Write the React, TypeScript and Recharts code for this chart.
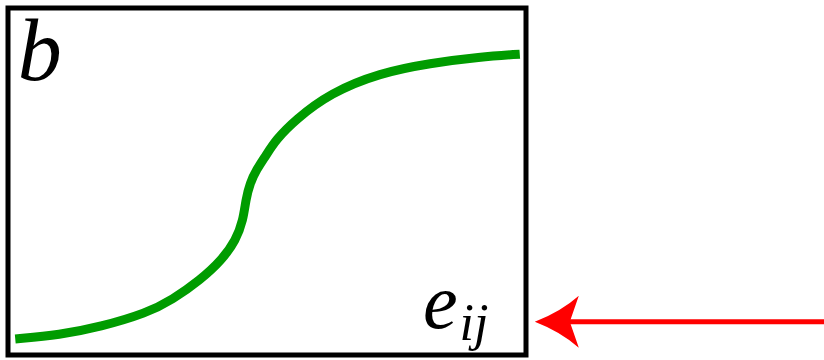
import { LineChart, Line, XAxis, YAxis, ReferenceArea, ReferenceLine, ReferenceDot } from 'recharts';

// S-shaped response curve b(e_ij), both axes normalised to 0..100
const curveX = [1.4, 10.0, 17.8, 26.8, 31.7, 37.1, 41.3, 44.0, 45.4, 45.9, 46.7, 48.0, 49.8, 51.7, 55.4, 62.2, 71.8, 81.5, 91.1, 98.8];
const curveY = [4.6, 5.8, 8.1, 12.1, 15.9, 21.6, 27.4, 33.1, 38.9, 44.7, 49.5, 53.5, 57.5, 62.0, 67.7, 75.5, 81.3, 84.1, 85.9, 86.7];

// arrow pointing at the e_ij axis, drawn outside the box
const arrowFrom = { x: 160, y: 9.6 };
const arrowTo = { x: 101.7, y: 9.6 };

const data = curveX.map((x, i) => ({ x, b: curveY[i] }));

const serif = '"Liberation Serif", "DejaVu Serif", serif';

function Arrow(props: any) {
  const { x1, y1, x2, y2 } = props;
  // tip on the left, tail running off to the right edge
  const tipX = Math.min(x1, x2);
  const tailX = Math.max(x1, x2);
  const y = (y1 + y2) / 2;
  const head = `M ${tipX} ${y} Q ${tipX + 26} ${y - 10} ${tipX + 44} ${y - 26} L ${tipX + 35} ${y} L ${tipX + 44} ${y + 26} Q ${tipX + 26} ${y + 10} ${tipX} ${y} Z`;
  return (
    <g>
      <line x1={tipX + 30} y1={y} x2={tailX + 4} y2={y} stroke="#ff0000" strokeWidth={5} />
      <path d={head} fill="#ff0000" />
    </g>
  );
}

export default function App() {
  return (
    <div style={{ position: 'absolute', left: 0, top: 0, background: '#fff' }}>
      <LineChart width={824} height={360} data={data} margin={{ top: 8, left: 8, right: 298, bottom: 5 }}>
        <XAxis type="number" dataKey="x" domain={[0, 100]} hide allowDataOverflow />
        <YAxis type="number" domain={[0, 100]} hide allowDataOverflow />
        <ReferenceArea x1={0} x2={100} y1={0} y2={100} fill="none" stroke="#000" strokeWidth={5} fillOpacity={0} ifOverflow="visible" />
        <Line
          type="basis"
          dataKey="b"
          stroke="#009c00"
          strokeWidth={9}
          dot={false}
          isAnimationActive={false}
        />
        <ReferenceDot
          x={1.9}
          y={79.3}
          r={0}
          ifOverflow="visible"
          shape={(p: any) => (
            <text x={p.cx} y={p.cy} fontFamily={serif} fontStyle="italic" fontSize={88} fill="#000">b</text>
          )}
        />
        <ReferenceDot
          x={80.1}
          y={7.8}
          r={0}
          ifOverflow="visible"
          shape={(p: any) => (
            <text x={p.cx} y={p.cy} fontFamily={serif} fontStyle="italic" fontSize={78} fill="#000">
              e<tspan dx={2} dy={12} fontSize={52}>ij</tspan>
            </text>
          )}
        />
        <ReferenceLine
          segment={[arrowFrom, arrowTo]}
          ifOverflow="visible"
          shape={Arrow}
        />
      </LineChart>
    </div>
  );
}
